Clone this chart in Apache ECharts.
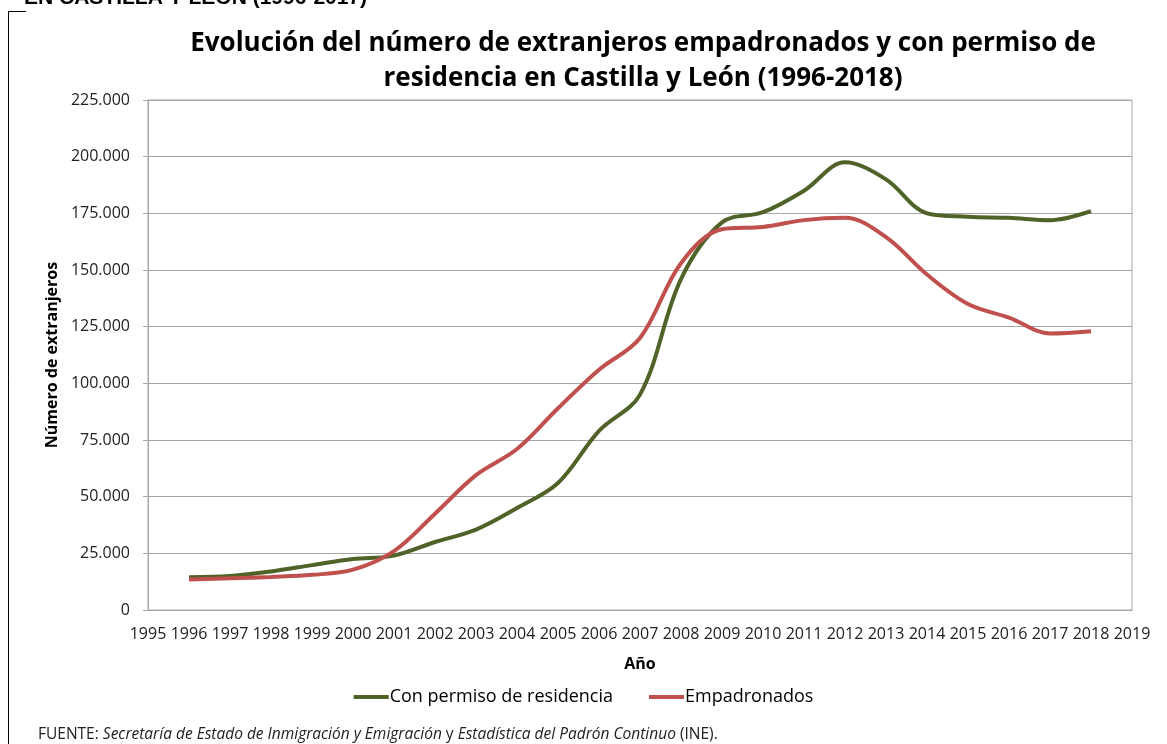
<!DOCTYPE html>
<html>
<head>
<meta charset="utf-8">
<script src="https://cdn.jsdelivr.net/npm/echarts@6/dist/echarts.min.js"></script>
<style>
  html, body { margin: 0; padding: 0; background: #fff; }
  #chart { width: 1167px; height: 744px; }
</style>
</head>
<body>
<div id="chart"></div>
<script>
// años y valores
const years = [1996, 1997, 1998, 1999, 2000, 2001, 2002, 2003, 2004, 2005, 2006, 2007,
  2008, 2009, 2010, 2011, 2012, 2013, 2014, 2015, 2016, 2017, 2018]
const conPermiso = [14500, 15000, 17000, 19800, 22500, 24000, 30000, 35500, 45000, 56000, 79000, 95000,
  146000, 171000, 175500, 185000, 197500, 190000, 175000, 173500, 173000, 172000, 176000]
const empadronados = [13500, 14000, 14600, 15500, 17800, 26000, 42500, 59500, 71000, 89000, 106000, 120000,
  153000, 168000, 169000, 172000, 173000, 164500, 148000, 135000, 129000, 122000, 123000]
const seriesNames = ['Con permiso de residencia', 'Empadronados']

const font = '"Open Sans", "Noto Sans", sans-serif'

const chart = echarts.init(document.getElementById('chart'))

function pairs(vals) {
    return years.map((y, i) => [y, vals[i]])
}

chart.setOption({
    animation: false,
    textStyle: { fontFamily: font },
    title: {
        text: 'Evolución del número de extranjeros empadronados y con permiso de\nresidencia en Castilla y León (1996-2018)',
        left: 638,
        top: 21,
        textAlign: 'center',
        textStyle: {
            fontSize: 26,
            fontWeight: 'bold',
            color: '#000',
            lineHeight: 35,
        },
    },
    legend: {
        bottom: 33,
        left: 'center',
        itemWidth: 35,
        itemHeight: 4,
        itemGap: 36,
        icon: 'rect',
        textStyle: { fontSize: 18, color: '#000', padding: [0, 0, 0, -4] },
        data: seriesNames,
    },
    grid: {
        left: 148,
        right: 35,
        top: 100,
        bottom: 134,
        show: true,
        borderColor: '#a6a6a6',
        borderWidth: 1,
    },
    xAxis: {
        type: 'value',
        min: 1995,
        max: 2019,
        interval: 1,
        name: 'Año',
        nameLocation: 'middle',
        nameGap: 46,
        nameTextStyle: { fontSize: 16, fontWeight: 'bold', color: '#000' },
        axisLine: { show: true, lineStyle: { color: '#a6a6a6' } },
        axisTick: { show: false },
        splitLine: { show: false },
        axisLabel: {
            fontSize: 16,
            color: '#222',
            margin: 16,
            formatter: v => String(v),
        },
    },
    yAxis: {
        type: 'value',
        min: 0,
        max: 225000,
        interval: 25000,
        name: 'Número de extranjeros',
        nameLocation: 'middle',
        nameGap: 85,
        nameRotate: 90,
        nameTextStyle: { fontSize: 16, fontWeight: 'bold', color: '#000' },
        axisLine: { show: true, lineStyle: { color: '#a6a6a6' } },
        axisTick: { show: true, length: 5, lineStyle: { color: '#a6a6a6' } },
        splitLine: { show: true, lineStyle: { color: '#a6a6a6' } },
        axisLabel: {
            fontSize: 16,
            color: '#222',
            margin: 18,
            formatter: v => v === 0 ? '0' : v.toLocaleString('de-DE'),
        },
    },
    series: [
        {
            name: seriesNames[0],
            type: 'line',
            smooth: 0.35,
            showSymbol: false,
            data: pairs(conPermiso),
            lineStyle: { width: 4, color: '#4f6228' },
            itemStyle: { color: '#4f6228' },
        },
        {
            name: seriesNames[1],
            type: 'line',
            smooth: 0.35,
            showSymbol: false,
            data: pairs(empadronados),
            lineStyle: { width: 4, color: '#c0504d' },
            itemStyle: { color: '#c0504d' },
        },
    ],
    graphic: [
        // texto cortado arriba, resto del documento original
        {
            type: 'text',
            left: 24,
            top: -12,
            style: {
                text: 'EN CASTILLA Y LEÓN (1996-2017)',
                font: 'bold 21px "Liberation Sans", Arial, sans-serif',
                fill: '#000',
            },
        },
        {
            type: 'polyline',
            shape: { points: [[26, 11.5], [8.5, 11.5], [8.5, 744]] },
            style: { stroke: '#000', lineWidth: 1, fill: null },
        },
        {
            type: 'text',
            left: 38,
            top: 727,
            style: {
                text: 'FUENTE: {i|Secretaría de Estado de Inmigración y Emigración} y {i|Estadística del Padrón Continuo} (INE).',
                font: '15.5px ' + font,
                fill: '#222',
                rich: {
                    i: { fontStyle: 'italic', fontSize: 15.5, fontFamily: font, fill: '#222' },
                },
            },
        },
    ],
})
</script>
</body>
</html>
